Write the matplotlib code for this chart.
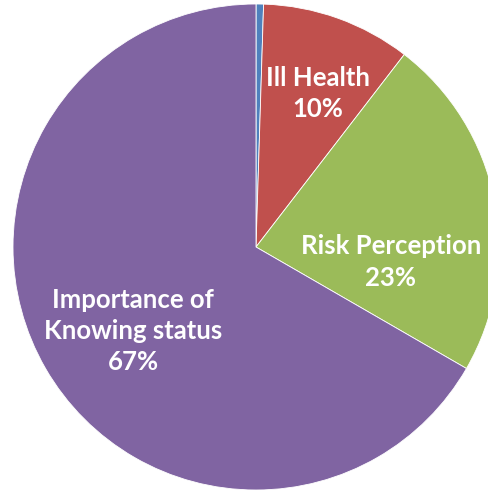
import matplotlib.pyplot as plt

categories = ["", "Ill Health", "Risk Perception", "Importance of\nKnowing status"]
values = [0.5, 10, 23, 67]
pct_labels = ["", "10%", "23%", "67%"]
colors = ["#4F81BD", "#C0504D", "#9BBB59", "#8064A2"]

W, H = 489, 495
fig = plt.figure(figsize=(W / 100, H / 100), dpi=100)
ax = fig.add_axes([0, 0, 1, 1])

cx, cy, r = 256, H - 247, 243
ax.pie(values, colors=colors, startangle=90, counterclock=False,
       center=(cx, cy), radius=r, frame=True,
       wedgeprops=dict(edgecolor="white", linewidth=0.6))
ax.set_xlim(0, W)
ax.set_ylim(0, H)
ax.axis("off")

# label positions (pixels from top-left)
label_pos = [None, (318, 93), (391, 262), (133, 331)]
for name, pct, pos in zip(categories, pct_labels, label_pos):
    if pos is None:
        continue
    ax.text(pos[0], H - pos[1], name + "\n" + pct, ha="center", va="center",
            color="white", fontsize=18.5, family="Lato", fontweight="bold",
            linespacing=1.35)

fig.savefig("out.png", dpi=100)
